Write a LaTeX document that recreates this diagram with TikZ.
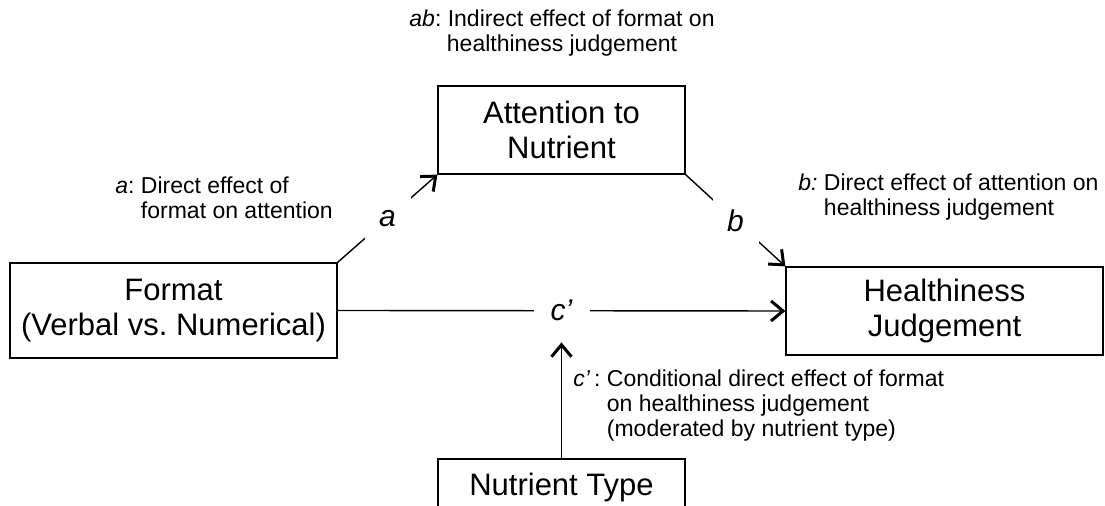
\documentclass[tikz,border=0pt]{standalone}
\usepackage{fontspec}
\setmainfont{Liberation Sans}
\frenchspacing
\usetikzlibrary{arrows.meta,positioning}

\tikzset{
    varbox/.style={draw, line width=0.6pt, minimum width=123.5pt, align=center,
        font=\fontsize{15.5}{17.5}\selectfont},
    pathlbl/.style={fill=white, inner sep=0pt, minimum width=23pt, minimum height=24pt,
        font=\fontsize{15}{17}\selectfont\itshape},
    effect/.style={inner sep=0pt, font=\fontsize{11.5}{12.5}\selectfont},
    link/.style={line width=0.7pt, -{Straight Barb[length=6pt,width=10pt,line width=1.5pt]}}
}

\begin{document}
\begin{tikzpicture}[x=0.5pt, y=-0.5pt]
                                    \useasboundingbox (0, 0) rectangle (1105, 506);
                                    % variables
                                    \node[varbox, minimum height=44pt] (attn) at (561.5, 130) {Attention to\\Nutrient};
                                    \node[varbox, minimum width=163.5pt, minimum height=47.5pt] (format) at (173.5, 310.5) {Format\\(Verbal vs. Numerical)};
                                    \node[varbox, minimum width=158.5pt, minimum height=44pt] (health) at (944.5, 311) {Healthiness\\Judgement};
                                    \node[varbox, minimum height=28pt] (nutr) at (561.5, 487) {Nutrient Type};
                                    % effect notes
                                    \node[effect, align=center] (abnote) at (562, 33) {\textit{ab}: Indirect effect of format on\\healthiness judgement};
                                    \node[effect, align=left, anchor=west] (anote) at (115, 197.5) {\textit{a}: Direct effect of\\\hphantom{\textit{a}: }format on attention};
                                    \node[effect, align=left, anchor=west] (bnote) at (798, 197.5) {\textit{b:} Direct effect of attention on\\\hphantom{\textit{b:} }healthiness judgement};
                                    \node[effect, align=left, anchor=west] (cnote) at (573, 406) {\textit{c’}\,: Conditional direct effect of format\\\hphantom{\textit{c’}\,: }on healthiness judgement\\\hphantom{\textit{c’}\,: }(moderated by nutrient type)};
                                    % paths
                                    \draw[link] (format.north east) -- node[pathlbl] (a) {a} (attn.south west);
                                    \draw[link] (attn.south east) -- node[pathlbl] (b) {b} (health.north west);
                                    \draw[link] (format.east) -- node[pathlbl, minimum width=28pt, minimum height=25pt] (cp) {c’} (health.west);
                                    \draw[link] (nutr.north) -- ([yshift=-3pt]cp.south);
                                \end{tikzpicture}
\end{document}
